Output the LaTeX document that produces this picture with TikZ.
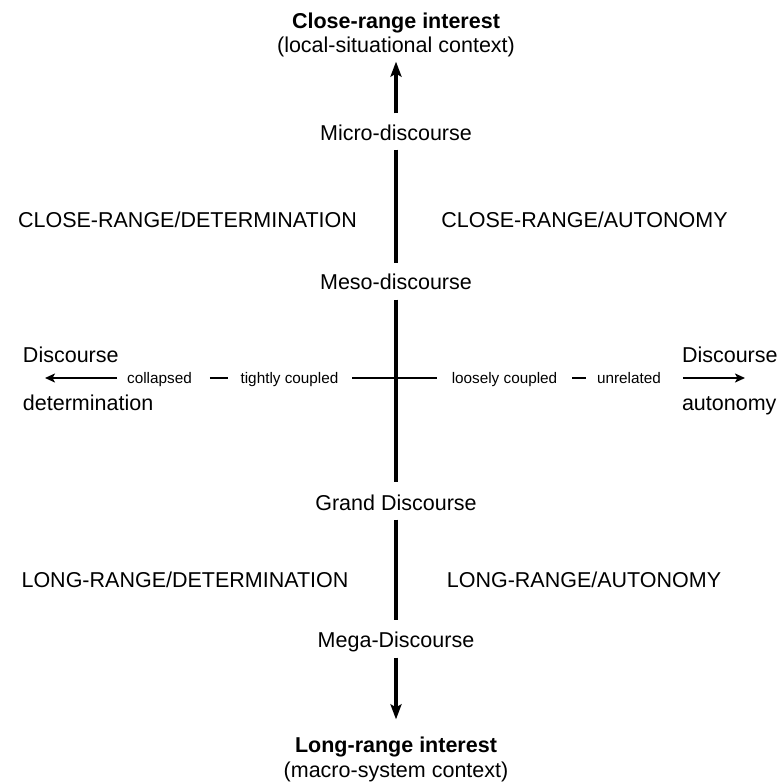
\documentclass[tikz,border=0pt]{standalone}
\usepackage{fontspec}
\setmainfont{Liberation Sans}
\usetikzlibrary{arrows.meta}
\begin{document}
\begin{tikzpicture}[x=1pt,y=-1pt,
  lbl/.style={inner sep=0pt,outer sep=0pt,font=\fontsize{21.5}{25}\selectfont,
    text height=20.4pt,text depth=4.9pt},
  hd/.style={lbl,font=\fontsize{21.5}{25}\selectfont\bfseries},
  small/.style={inner sep=0pt,outer sep=0pt,font=\fontsize{15.3}{18}\selectfont,
    text height=14.5pt,text depth=3.5pt},
  axis/.style={line width=3.3pt},
  haxis/.style={line width=2pt},
  tip/.style={-{Stealth[length=15pt,width=11pt,inset=3pt]}},
  htip/.style={-{Stealth[length=10pt,width=9pt,inset=2.5pt]}}
]
\useasboundingbox (0,0) rectangle (778,784);

% vertical axis labels
\node[hd]  (top1) at (396,21) {Close-range interest};
\node[lbl] (top2) at (396,45) {(local-situational context)};
\node[lbl] (micro) at (396,133) {Micro-discourse};
\node[lbl] (meso) at (396,282) {Meso-discourse};
\node[lbl] (grand) at (396,503) {Grand Discourse};
\node[lbl] (mega) at (396,640) {Mega-Discourse};
\node[hd]  (bot1) at (396,745) {Long-range interest};
\node[lbl] (bot2) at (396,770) {(macro-system context)};

% quadrant labels
\node[lbl] (q1) at (187.5,220) {CLOSE-RANGE/DETERMINATION};
\node[lbl] (q2) at (584.5,220) {CLOSE-RANGE/AUTONOMY};
\node[lbl] (q3) at (185,580) {LONG-RANGE/DETERMINATION};
\node[lbl] (q4) at (584,580) {LONG-RANGE/AUTONOMY};

% horizontal axis end labels
\node[lbl,anchor=west] (ldisc) at (23,355) {Discourse};
\node[lbl,anchor=west] (ldet) at (23,403) {determination};
\node[lbl,anchor=west] (rdisc) at (682,355) {Discourse};
\node[lbl,anchor=west] (raut) at (682,403) {autonomy};

% horizontal axis scale labels
\node[small] (collapsed) at (159.5,378) {collapsed};
\node[small] (tight) at (289.5,378) {tightly coupled};
\node[small] (loose) at (504.5,378) {loosely coupled};
\node[small] (unrel) at (629,378) {unrelated};
\coordinate (ltip) at (45,378);
\coordinate (rtip) at (745,378);

% vertical axis
\draw[axis,tip,shorten <=7pt,shorten >=4pt] (micro) -- (top2);
\draw[axis,shorten <=4pt,shorten >=6pt] (micro) -- (meso);
\draw[axis,shorten <=5pt,shorten >=8pt] (meso) -- (grand);
\draw[axis,shorten <=4pt,shorten >=7pt] (grand) -- (mega);
\draw[axis,tip,shorten <=5pt,shorten >=13pt] (mega) -- (bot1);

% horizontal axis
\draw[haxis,shorten <=14pt,shorten >=15pt] (tight) -- (loose);
\draw[haxis,shorten <=18pt,shorten >=13pt] (collapsed) -- (tight);
\draw[haxis,shorten <=15pt,shorten >=11pt] (loose) -- (unrel);
\draw[haxis,htip,shorten <=10pt] (collapsed) -- (ltip);
\draw[haxis,htip,shorten <=22pt] (unrel) -- (rtip);
\end{tikzpicture}
\end{document}
